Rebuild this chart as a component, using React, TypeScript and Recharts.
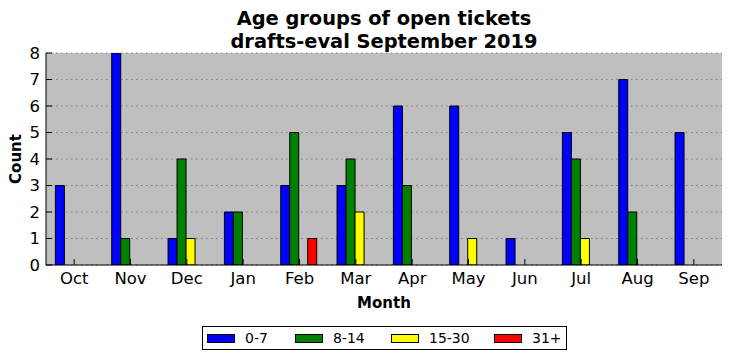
import { BarChart, Bar, XAxis, YAxis, CartesianGrid } from "recharts";

const MONTHS = ["Oct", "Nov", "Dec", "Jan", "Feb", "Mar", "Apr", "May", "Jun", "Jul", "Aug", "Sep"];
const AGE_0_7 = [3, 8, 1, 2, 3, 3, 6, 6, 1, 5, 7, 5];
const AGE_8_14 = [0, 1, 4, 2, 5, 4, 3, 0, 0, 4, 2, 0];
const AGE_15_30 = [0, 0, 1, 0, 0, 2, 0, 1, 0, 1, 0, 0];
const AGE_31_PLUS = [0, 0, 0, 0, 1, 0, 0, 0, 0, 0, 0, 0];
const Y_TICKS = [0, 1, 2, 3, 4, 5, 6, 7, 8];

const SERIES = [
  { key: "a", name: "0-7", color: "#0000ff" },
  { key: "b", name: "8-14", color: "#008000" },
  { key: "c", name: "15-30", color: "#ffff00" },
  { key: "d", name: "31+", color: "#ff0000" },
];

const data = MONTHS.map((m, i) => ({
  month: m,
  a: AGE_0_7[i],
  b: AGE_8_14[i],
  c: AGE_15_30[i],
  d: AGE_31_PLUS[i],
}));

const FONT = "'DejaVu Sans', sans-serif";
const TICK = { fill: "#000", fontSize: 16.5, fontFamily: FONT };

export default function App() {
  return (
    <div style={{ position: "absolute", left: 0, top: 0, width: 732, height: 361, background: "#fff", fontFamily: FONT }}>
      <div
        style={{
          position: "absolute",
          left: 46,
          width: 676,
          top: 8,
          textAlign: "center",
          fontWeight: "bold",
          fontSize: 19.4,
          lineHeight: "22.5px",
          color: "#000",
        }}
      >
        Age groups of open tickets
        <br />
        drafts-eval September 2019
      </div>
      <BarChart
        width={732}
        height={361}
        data={data}
        margin={{ top: 53, right: 10, left: 0, bottom: 0 }}
        barCategoryGap="16.67%"
        barGap={0}
      >
        <CartesianGrid
          vertical={false}
          fill="#bfbfbf"
          stroke="#6a6a6a"
          strokeDasharray="1.5 3.5"
          strokeWidth={0.8}
          fillOpacity={1}
        />
        <XAxis
          dataKey="month"
          height={96}
          stroke="#000"
          tick={TICK}
          tickSize={-6}
          tickMargin={13}
          label={{
            value: "Month",
            position: "insideTop",
            offset: 32,
            style: { fontWeight: "bold", fontSize: 15, fill: "#000", fontFamily: FONT },
          }}
        />
        <XAxis xAxisId="top" dataKey="month" orientation="top" height={0} stroke="#000" tick={false} tickSize={-6} />
        <YAxis
          domain={[0, 8]}
          ticks={Y_TICKS}
          width={46}
          stroke="#000"
          tick={TICK}
          tickSize={-6}
          tickMargin={12}
          allowDataOverflow
          label={{
            value: "Count",
            angle: -90,
            position: "insideLeft",
            offset: 16,
            style: { fontWeight: "bold", fontSize: 15, fill: "#000", fontFamily: FONT, textAnchor: "middle" },
          }}
        />
        <YAxis yAxisId="right" orientation="right" domain={[0, 8]} ticks={Y_TICKS} width={0} stroke="#000" tick={false} tickSize={-6} />
        {SERIES.map((s) => (
          <Bar key={s.key} dataKey={s.key} name={s.name} fill={s.color} stroke="#000" strokeWidth={1} isAnimationActive={false} />
        ))}
      </BarChart>
      <div
        style={{
          position: "absolute",
          left: 202,
          top: 326,
          width: 365,
          height: 24,
          border: "1px solid #000",
          fontSize: 14,
          color: "#000",
          boxSizing: "border-box",
        }}
      >
        {SERIES.map((s, i) => (
          <div
            key={s.key}
            style={{ position: "absolute", left: [4, 92, 188, 291][i], top: 0, height: 22, display: "flex", alignItems: "center" }}
          >
            <span style={{ display: "inline-block", width: 28, height: 9, background: s.color, border: "1px solid #000", boxSizing: "border-box" }} />
            <span style={{ marginLeft: 10 }}>{s.name}</span>
          </div>
        ))}
      </div>
    </div>
  );
}
